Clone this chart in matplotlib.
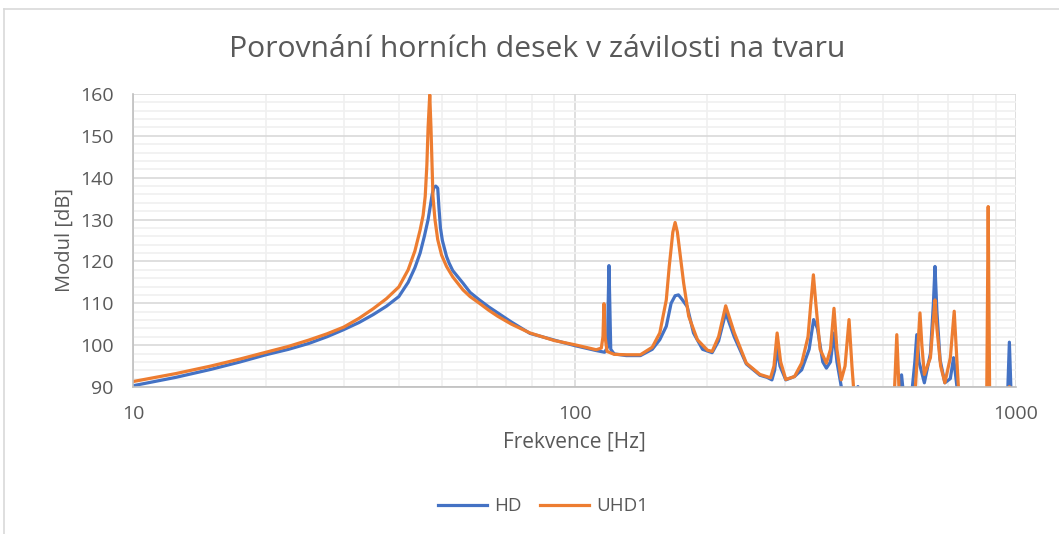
import matplotlib
matplotlib.use("Agg")
import matplotlib.pyplot as plt
from matplotlib.lines import Line2D
from matplotlib.ticker import LogLocator, FixedLocator, NullFormatter, FuncFormatter

# frekvence [Hz] a modul [dB] odectene z mereni, hodnoty pod 90 dB jsou orezany osou
hd_f = [10, 12.5, 15, 17.5, 20, 22.5, 25, 27.5, 30, 32.5, 35, 37.5, 40, 42, 43.5, 44.7,
        45.7, 46.6, 47.1, 47.6, 48.0, 48.5, 49.0, 49.3, 49.7, 50.2, 51.3, 52, 53, 55.9,
        58, 60.9, 64, 67, 72, 79.3, 90, 100, 112, 117, 118.8, 119.2, 119.7, 120.2,
        120.8, 123, 131, 141, 150, 156, 161.4, 165.5, 169, 172, 175, 180, 186, 195,
        205, 212, 220, 230, 245, 263, 273, 280, 284, 287.7, 292, 301, 315, 327, 340,
        348, 355, 365, 372, 380, 387, 393, 402, 410, 430, 438.5, 446, 480, 540, 550.5,
        560, 580, 590, 596, 603, 620, 640, 650, 655.4, 662, 673, 690, 710, 722, 735,
        745, 800, 955, 966, 977, 1000]
hd_db = [90.3, 92.3, 94.2, 96.0, 97.7, 99.0, 100.4, 102.0, 103.7, 105.4, 107.3, 109.3,
         111.6, 115.0, 118.5, 122.0, 126.0, 130.0, 133.0, 136.0, 137.6, 138.0, 137.5,
         133.0, 128.0, 125.0, 121.2, 119.6, 117.8, 114.8, 112.6, 110.8, 109.1, 107.7,
         105.5, 102.8, 101.2, 99.9, 98.7, 98.3, 99.5, 110.0, 119.0, 110.0, 99.0, 97.9,
         97.5, 97.5, 99.0, 101.3, 104.5, 110.0, 111.8, 112.0, 111.0, 109.2, 102.9, 99.0,
         98.2, 101.0, 107.7, 102.0, 95.5, 92.8, 92.3, 91.7, 94.0, 99.3, 95.0, 91.7, 92.5,
         94.1, 99.0, 106.1, 104.0, 96.0, 94.5, 96.0, 102.9, 96.0, 90.1, 88.0, 86.0, 90.1,
         85.0, 80.0, 85.0, 92.9, 85.0, 88.0, 96.0, 102.5, 96.0, 91.0, 98.0, 110.0, 118.8,
         108.0, 96.5, 91.0, 92.0, 97.0, 90.0, 80.0, 75.0, 85.0, 100.7, 85.0, 80.0]

uhd_f = [10, 12.5, 15, 17.5, 20, 22.5, 25, 27.5, 30, 32.5, 35, 37.5, 40, 42, 43.5, 44.7,
         45.4, 45.9, 46.3, 46.6, 47.0, 47.3, 47.6, 47.8, 48.3, 49.0, 50, 51.3, 53, 55.9,
         58, 60.9, 64, 67, 72, 79.3, 90, 100, 112, 115, 116, 116.6, 117.3, 118.5, 123,
         131, 141, 150, 156, 161.4, 163.9, 167, 169, 171, 176.7, 181.4, 189.8, 200,
         205, 212, 220, 230, 245, 263, 278, 283, 287.7, 293, 301, 315, 327, 338, 343,
         347.6, 352, 360, 372, 380, 387, 393, 402, 410, 418.6, 425, 432, 480, 530, 537,
         544, 560, 590, 600, 606, 612, 620, 640, 650, 655.4, 662, 675, 690, 710, 724.5,
         735, 745, 800, 858, 865, 872, 940, 966, 980, 1000]
uhd_db = [91.3, 93.2, 95.0, 96.7, 98.3, 99.7, 101.2, 102.7, 104.3, 106.4, 108.7, 111.1,
          113.9, 118.0, 122.5, 127.5, 131.0, 135.5, 143.0, 152.0, 159.8, 152.0, 142.0,
          135.5, 130.0, 125.2, 121.5, 118.8, 116.3, 113.2, 111.6, 110.0, 108.3, 106.9,
          105.0, 102.9, 101.1, 100.1, 98.9, 99.3, 102.0, 109.9, 102.0, 98.5, 97.8, 97.7,
          97.7, 99.5, 102.9, 110.8, 118.8, 127.0, 129.3, 127.0, 114.8, 106.9, 101.3, 98.8,
          98.5, 102.0, 109.4, 103.0, 95.7, 93.0, 92.2, 95.0, 102.9, 96.0, 91.8, 92.5, 95.7,
          102.0, 110.0, 116.8, 110.0, 99.0, 95.7, 99.0, 108.8, 99.0, 91.7, 95.0, 106.1,
          95.0, 85.0, 75.0, 88.0, 102.5, 88.0, 80.0, 88.0, 100.0, 107.7, 100.0, 93.0, 97.0,
          106.0, 110.8, 104.0, 95.0, 91.0, 97.0, 108.1, 96.0, 85.0, 75.0, 85.0, 133.1, 85.0,
          80.0, 90.1, 85.0, 80.0]

BLUE = "#4472C4"
ORANGE = "#ED7D31"
TXT = "#595959"

plt.rcParams["font.family"] = ["Open Sans", "DejaVu Sans"]

fig = plt.figure(figsize=(10.59, 5.34), dpi=100)
ax = fig.add_axes([0.1256, 0.2753, 0.8338, 0.5487])

ax.plot(hd_f, hd_db, color=BLUE, lw=2.3, label="HD", solid_joinstyle="round")
ax.plot(uhd_f, uhd_db, color=ORANGE, lw=2.3, label="UHD1", solid_joinstyle="round")

ax.set_xscale("log")
ax.set_xlim(10, 1000)
ax.set_ylim(90, 160)
ax.xaxis.set_major_locator(FixedLocator([10, 100, 1000]))
ax.xaxis.set_major_formatter(FuncFormatter(lambda v, p: f"{v:g}"))
ax.xaxis.set_minor_locator(LogLocator(base=10, subs=range(2, 10)))
ax.xaxis.set_minor_formatter(NullFormatter())
ax.set_yticks(range(90, 161, 10))
ax.set_yticks(range(90, 161, 2), minor=True)

ax.grid(which="major", color="#D9D9D9", lw=1.2)
ax.grid(which="minor", color="#F0F0F0", lw=1.2)
ax.set_axisbelow(True)
ax.tick_params(which="both", length=0, colors=TXT, labelsize=14)
ax.tick_params(axis="x", pad=13)
ax.tick_params(axis="y", pad=14)
for s in ("top", "right"):
    ax.spines[s].set_visible(False)
for s in ("left", "bottom"):
    ax.spines[s].set_color("#BFBFBF")
    ax.spines[s].set_linewidth(1.2)

ax.set_xlabel("Frekvence [Hz]", color=TXT, fontsize=15, labelpad=6)
ax.set_ylabel("Modul [dB]", color=TXT, fontsize=14.5, labelpad=4)
fig.text(0.507, 0.908, "Porovnání horních desek v závilosti na tvaru",
         ha="center", va="center", color=TXT, fontsize=21.7)

fig.legend(*ax.get_legend_handles_labels(), loc="center", bbox_to_anchor=(0.513, 0.052),
           ncol=2, frameon=False, fontsize=13.5, labelcolor=TXT, handlelength=2.6,
           columnspacing=1.0, handletextpad=0.4)

# okraj oblasti grafu
fig.add_artist(Line2D([4 / 1059, 4 / 1059], [0, 1 - 9 / 534], color="#D9D9D9", lw=1.2))
fig.add_artist(Line2D([4 / 1059, 1], [1 - 9 / 534, 1 - 9 / 534], color="#D9D9D9", lw=1.2))

fig.savefig("out.png", dpi=100)
